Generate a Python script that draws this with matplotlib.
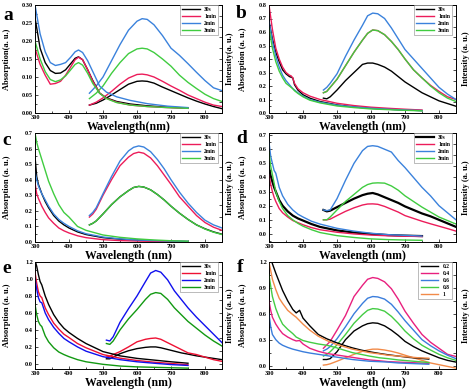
import numpy as np
import matplotlib
matplotlib.use("Agg")
import matplotlib.pyplot as plt
from matplotlib.ticker import MultipleLocator, FormatStrFormatter, MaxNLocator

plt.rcParams['font.family'] = ['Liberation Serif', 'DejaVu Serif']
plt.rcParams['font.weight'] = 'bold'

# ---------------- panel a ----------------
a_abs_wl = [300, 315, 330, 345, 360, 375, 390, 405, 418, 428, 440, 455, 470, 490, 510, 540, 580, 630, 690, 750]
a_abs_30s = [0.265, 0.18, 0.14, 0.118, 0.11, 0.111, 0.12, 0.137, 0.152, 0.156, 0.148, 0.12, 0.09, 0.055, 0.042, 0.032, 0.025, 0.02, 0.016, 0.014]
a_abs_1min = [0.18, 0.135, 0.105, 0.08, 0.082, 0.088, 0.105, 0.128, 0.148, 0.155, 0.148, 0.12, 0.088, 0.056, 0.041, 0.03, 0.022, 0.018, 0.015, 0.013]
a_abs_2min = [0.30, 0.22, 0.17, 0.14, 0.132, 0.135, 0.14, 0.155, 0.17, 0.175, 0.168, 0.145, 0.115, 0.075, 0.058, 0.045, 0.035, 0.026, 0.019, 0.015]
a_abs_3min = [0.20, 0.15, 0.115, 0.093, 0.087, 0.092, 0.103, 0.12, 0.135, 0.14, 0.133, 0.11, 0.082, 0.055, 0.04, 0.029, 0.022, 0.018, 0.015, 0.013]
a_em_wl = [460, 480, 500, 525, 550, 575, 600, 615, 630, 650, 675, 700, 725, 750, 775, 800, 825, 850]
a_em_30s = [0.022, 0.027, 0.036, 0.05, 0.065, 0.08, 0.088, 0.089, 0.088, 0.083, 0.072, 0.062, 0.052, 0.042, 0.033, 0.025, 0.018, 0.012]
a_em_1min = [0.022, 0.03, 0.042, 0.06, 0.08, 0.097, 0.107, 0.108, 0.106, 0.10, 0.088, 0.075, 0.063, 0.05, 0.04, 0.03, 0.022, 0.018]
a_em_2min = [0.055, 0.075, 0.10, 0.145, 0.19, 0.23, 0.255, 0.262, 0.26, 0.245, 0.215, 0.18, 0.16, 0.137, 0.113, 0.09, 0.07, 0.062]
a_em_3min = [0.04, 0.055, 0.075, 0.11, 0.14, 0.165, 0.178, 0.18, 0.178, 0.168, 0.15, 0.13, 0.105, 0.085, 0.068, 0.052, 0.04, 0.032]

# ---------------- panel b ----------------
b_abs_wl = [300, 310, 320, 330, 340, 350, 360, 365, 370, 375, 385, 400, 420, 450, 500, 550, 600, 650, 700, 750]
b_abs_30s = [0.68, 0.55, 0.45, 0.38, 0.32, 0.29, 0.27, 0.265, 0.26, 0.21, 0.17, 0.135, 0.11, 0.085, 0.06, 0.045, 0.035, 0.028, 0.022, 0.018]
b_abs_1min = [0.80, 0.62, 0.48, 0.40, 0.34, 0.30, 0.28, 0.275, 0.26, 0.22, 0.18, 0.15, 0.125, 0.10, 0.072, 0.055, 0.043, 0.035, 0.028, 0.022]
b_abs_2min = [0.68, 0.53, 0.42, 0.34, 0.28, 0.24, 0.21, 0.195, 0.18, 0.17, 0.15, 0.125, 0.10, 0.08, 0.058, 0.045, 0.035, 0.028, 0.022, 0.018]
b_abs_3min = [0.63, 0.48, 0.38, 0.31, 0.26, 0.22, 0.20, 0.19, 0.18, 0.165, 0.145, 0.12, 0.095, 0.075, 0.052, 0.04, 0.03, 0.025, 0.02, 0.016]
em_wl = [460, 470, 480, 500, 525, 550, 575, 590, 605, 620, 640, 660, 680, 700, 725, 750, 775, 800, 825, 850]
b_em_30s = [0.11, 0.105, 0.12, 0.17, 0.24, 0.30, 0.36, 0.37, 0.37, 0.36, 0.34, 0.31, 0.27, 0.23, 0.19, 0.15, 0.12, 0.09, 0.07, 0.05]
b_em_1min = [0.15, 0.16, 0.19, 0.25, 0.35, 0.45, 0.54, 0.59, 0.615, 0.61, 0.58, 0.53, 0.47, 0.40, 0.32, 0.26, 0.205, 0.16, 0.12, 0.10]
b_em_2min = [0.17, 0.19, 0.22, 0.29, 0.42, 0.54, 0.65, 0.72, 0.74, 0.735, 0.70, 0.63, 0.55, 0.47, 0.40, 0.33, 0.26, 0.19, 0.14, 0.10]
b_em_3min = [0.15, 0.16, 0.19, 0.25, 0.35, 0.45, 0.54, 0.59, 0.615, 0.61, 0.58, 0.53, 0.47, 0.40, 0.32, 0.26, 0.20, 0.15, 0.11, 0.085]

# ---------------- panel c ----------------
c_abs_wl = [300, 305, 310, 320, 330, 340, 355, 370, 385, 400, 425, 450, 500, 550, 600, 650, 700, 750]
c_abs_30s = [0.55, 0.42, 0.37, 0.31, 0.26, 0.22, 0.17, 0.135, 0.11, 0.09, 0.065, 0.048, 0.028, 0.018, 0.012, 0.008, 0.005, 0.003]
c_abs_1min = [0.38, 0.31, 0.28, 0.23, 0.19, 0.155, 0.12, 0.09, 0.072, 0.058, 0.04, 0.028, 0.015, 0.009, 0.006, 0.004, 0.003, 0.002]
c_abs_2min = [0.45, 0.40, 0.36, 0.31, 0.27, 0.23, 0.18, 0.145, 0.12, 0.10, 0.072, 0.053, 0.032, 0.02, 0.013, 0.009, 0.006, 0.004]
c_abs_3min = [0.70, 0.64, 0.60, 0.53, 0.46, 0.39, 0.31, 0.24, 0.19, 0.16, 0.10, 0.075, 0.045, 0.03, 0.02, 0.013, 0.008, 0.005]
c_em_30s = [0.11, 0.12, 0.135, 0.18, 0.24, 0.29, 0.33, 0.35, 0.357, 0.353, 0.335, 0.305, 0.27, 0.23, 0.185, 0.145, 0.11, 0.085, 0.065, 0.05]
c_em_1min = [0.16, 0.18, 0.21, 0.30, 0.40, 0.49, 0.545, 0.568, 0.577, 0.57, 0.54, 0.49, 0.43, 0.37, 0.29, 0.23, 0.17, 0.125, 0.095, 0.075]
c_em_2min = [0.17, 0.19, 0.22, 0.31, 0.42, 0.52, 0.585, 0.608, 0.617, 0.61, 0.58, 0.53, 0.47, 0.40, 0.32, 0.25, 0.19, 0.14, 0.11, 0.09]
c_em_3min = [0.11, 0.12, 0.135, 0.18, 0.24, 0.29, 0.33, 0.35, 0.357, 0.353, 0.335, 0.305, 0.27, 0.23, 0.185, 0.145, 0.11, 0.083, 0.063, 0.048]

# ---------------- panel d ----------------
d_abs_wl = [300, 305, 310, 315, 320, 330, 340, 355, 370, 385, 400, 425, 450, 500, 550, 600, 650, 700, 750]
d_abs_30s = [0.47, 0.41, 0.37, 0.33, 0.30, 0.24, 0.20, 0.16, 0.13, 0.11, 0.095, 0.07, 0.05, 0.025, 0.01, 0.0, -0.008, -0.012, -0.015]
d_abs_1min = [0.42, 0.35, 0.30, 0.26, 0.23, 0.18, 0.15, 0.12, 0.095, 0.08, 0.065, 0.045, 0.03, 0.012, 0.0, -0.008, -0.013, -0.016, -0.018]
d_abs_2min = [0.65, 0.55, 0.50, 0.45, 0.43, 0.33, 0.27, 0.21, 0.17, 0.14, 0.12, 0.09, 0.07, 0.04, 0.02, 0.005, -0.005, -0.01, -0.015]
d_abs_3min = [0.58, 0.48, 0.42, 0.36, 0.30, 0.23, 0.18, 0.13, 0.10, 0.075, 0.055, 0.03, 0.01, -0.012, -0.025, -0.035, -0.04, -0.043, -0.045]
d_em_30s = [0.17, 0.16, 0.165, 0.19, 0.22, 0.25, 0.275, 0.285, 0.29, 0.28, 0.26, 0.24, 0.22, 0.195, 0.17, 0.145, 0.125, 0.10, 0.075, 0.05]
d_em_1min = [0.10, 0.10, 0.105, 0.13, 0.16, 0.185, 0.205, 0.212, 0.213, 0.21, 0.195, 0.175, 0.155, 0.13, 0.11, 0.09, 0.072, 0.055, 0.038, 0.02]
d_em_2min = [0.17, 0.165, 0.17, 0.25, 0.38, 0.50, 0.59, 0.62, 0.625, 0.62, 0.60, 0.58, 0.52, 0.47, 0.40, 0.33, 0.27, 0.20, 0.15, 0.10]
d_em_3min = [0.10, 0.10, 0.12, 0.17, 0.23, 0.28, 0.33, 0.35, 0.36, 0.362, 0.36, 0.34, 0.31, 0.27, 0.23, 0.19, 0.155, 0.12, 0.095, 0.07]

# ---------------- panel e ----------------
e_abs_wl = [300, 305, 310, 315, 320, 330, 340, 355, 370, 385, 400, 425, 450, 500, 550, 600, 650, 700, 750]
e_abs_30s = [1.22, 1.15, 1.05, 0.97, 0.93, 0.80, 0.70, 0.58, 0.49, 0.42, 0.37, 0.30, 0.24, 0.145, 0.095, 0.065, 0.045, 0.025, 0.008]
e_abs_1min = [1.08, 0.95, 0.85, 0.80, 0.78, 0.66, 0.58, 0.48, 0.41, 0.35, 0.31, 0.24, 0.19, 0.11, 0.068, 0.04, 0.02, 0.005, -0.01]
e_abs_2min = [1.0, 0.88, 0.78, 0.73, 0.72, 0.60, 0.52, 0.43, 0.36, 0.30, 0.26, 0.20, 0.15, 0.085, 0.05, 0.025, 0.008, -0.008, -0.018]
e_abs_3min = [0.70, 0.58, 0.50, 0.46, 0.44, 0.33, 0.26, 0.19, 0.14, 0.11, 0.085, 0.05, 0.025, -0.005, -0.025, -0.035, -0.04, -0.045, -0.05]
e_em_wl = [510, 520, 530, 550, 575, 600, 625, 640, 655, 670, 690, 710, 730, 750, 775, 800, 825, 850]
e_em_30s = [0.06, 0.06, 0.08, 0.12, 0.155, 0.18, 0.195, 0.2, 0.2, 0.19, 0.17, 0.15, 0.13, 0.115, 0.095, 0.08, 0.065, 0.05]
e_em_1min = [0.08, 0.09, 0.11, 0.145, 0.20, 0.26, 0.29, 0.30, 0.305, 0.29, 0.25, 0.21, 0.17, 0.13, 0.11, 0.08, 0.05, 0.03]
e_em_2min = [0.28, 0.27, 0.32, 0.49, 0.65, 0.80, 0.97, 1.07, 1.10, 1.08, 0.99, 0.86, 0.76, 0.66, 0.55, 0.45, 0.35, 0.25]
e_em_3min = [0.24, 0.23, 0.27, 0.40, 0.53, 0.64, 0.76, 0.82, 0.84, 0.83, 0.76, 0.66, 0.58, 0.50, 0.42, 0.34, 0.27, 0.21]

# ---------------- panel f ----------------
f_abs_wl = [300, 305, 310, 320, 330, 340, 355, 370, 380, 390, 400, 420, 445, 470, 495, 520, 545, 570, 595, 625, 650, 680, 710, 740, 770]
f_abs_02 = [1.35, 1.25, 1.18, 1.07, 0.97, 0.87, 0.75, 0.65, 0.61, 0.64, 0.55, 0.46, 0.36, 0.31, 0.27, 0.235, 0.205, 0.18, 0.16, 0.14, 0.125, 0.11, 0.095, 0.085, 0.075]
f_abs_04 = [0.75, 0.64, 0.56, 0.48, 0.42, 0.37, 0.33, 0.30, 0.285, 0.29, 0.25, 0.20, 0.165, 0.14, 0.125, 0.11, 0.095, 0.08, 0.065, 0.055, 0.045, 0.04, 0.035, 0.03, 0.025]
f_abs_06 = [0.60, 0.45, 0.36, 0.30, 0.26, 0.235, 0.21, 0.19, 0.18, 0.17, 0.16, 0.145, 0.13, 0.115, 0.10, 0.085, 0.07, 0.06, 0.05, 0.045, 0.04, 0.03, 0.025, 0.02, 0.015]
f_abs_08 = [1.05, 0.92, 0.80, 0.66, 0.56, 0.48, 0.42, 0.37, 0.33, 0.31, 0.29, 0.27, 0.25, 0.235, 0.21, 0.18, 0.15, 0.13, 0.11, 0.09, 0.08, 0.065, 0.055, 0.045, 0.035]
f_abs_1 = [1.2, 1.1, 1.0, 0.88, 0.78, 0.72, 0.64, 0.59, 0.56, 0.52, 0.48, 0.41, 0.34, 0.29, 0.25, 0.22, 0.19, 0.17, 0.15, 0.135, 0.12, 0.11, 0.10, 0.09, 0.085]
f_em_02 = [0.07, 0.07, 0.08, 0.16, 0.30, 0.40, 0.46, 0.485, 0.495, 0.49, 0.46, 0.41, 0.35, 0.28, 0.22, 0.17, 0.13, 0.09, 0.06, 0.04]
f_em_04 = [0.20, 0.24, 0.28, 0.41, 0.58, 0.80, 0.93, 1.0, 1.02, 1.01, 0.97, 0.89, 0.77, 0.63, 0.49, 0.36, 0.27, 0.20, 0.13, 0.105]
f_em_06 = [0.17, 0.19, 0.22, 0.31, 0.45, 0.60, 0.72, 0.78, 0.80, 0.795, 0.77, 0.71, 0.62, 0.52, 0.41, 0.30, 0.23, 0.17, 0.12, 0.08]
f_em_08 = [0.11, 0.13, 0.16, 0.24, 0.36, 0.49, 0.59, 0.64, 0.66, 0.655, 0.63, 0.57, 0.49, 0.40, 0.31, 0.235, 0.18, 0.13, 0.09, 0.06]
f_em_1 = [0.005, 0.01, 0.02, 0.05, 0.09, 0.13, 0.165, 0.18, 0.19, 0.19, 0.18, 0.165, 0.145, 0.12, 0.09, 0.06, 0.03, 0.01, -0.01, -0.03]

time_labels = ['30s', '1min', '2min', '3min']
conc_labels = ['0.2', '0.4', '0.6', '0.8', '1']
cols_abcd = ['#000000', '#ec1c5a', '#3b82dc', '#40cc40']
cols_e = ['#000000', '#ee1133', '#1010ee', '#129912']
cols_f = ['#000000', '#e8207e', '#3a7ddc', '#44cc44', '#f28a48']

W, H = 474.0, 390.0
fig = plt.figure(figsize=(4.74, 3.9), dpi=100)


def make_ax(x0, y0, x1, y1):
    return fig.add_axes([x0 / W, 1 - y1 / H, (x1 - x0) / W, (y1 - y0) / H])


def draw(ax, abs_wl, abs_list, em_wl_, em_list, labels, cols, ylim, ystep, fmt,
         xlab, ylab, rlab, left_col, lws=None):
    tw = ax.twinx()
    if lws is None:
        lws = [1.0] * len(labels)
    for y, c, lab, lw in zip(abs_list, cols, labels, lws):
        ax.plot(abs_wl, y, color=c, lw=lw, label=lab)
    for y, c, lw in zip(em_list, cols, lws):
        tw.plot(em_wl_, y, color=c, lw=lw)
    ax.set_xlim(300, 850)
    ax.set_ylim(*ylim)
    tw.set_ylim(*ylim)
    ax.xaxis.set_major_locator(MultipleLocator(100))
    ax.xaxis.set_minor_locator(MultipleLocator(50))
    ax.yaxis.set_major_locator(MultipleLocator(ystep))
    ax.yaxis.set_minor_locator(MultipleLocator(ystep / 2))
    ax.yaxis.set_major_formatter(FormatStrFormatter(fmt))
    ax.tick_params(which='both', direction='in', labelsize=4.5, pad=1.5, width=0.5)
    ax.tick_params(which='major', length=2.5)
    ax.tick_params(which='minor', length=1.5)
    tw.yaxis.set_major_locator(MaxNLocator(11))
    tw.tick_params(direction='in', length=2.5, width=0.5, labelright=False)
    for s in ax.spines.values():
        s.set_linewidth(0.6)
    for s in tw.spines.values():
        s.set_linewidth(0.6)
    ax.set_xlabel(xlab, fontsize=8.5, fontweight='bold')
    ax.xaxis.set_label_coords(0.5, -0.075)
    ax.set_ylabel(ylab, fontsize=6, fontweight='bold')
    if left_col:
        ax.yaxis.set_label_coords(-0.128, 0.5)
        tw.yaxis.set_label_coords(1.022, 0.5)
    else:
        ax.yaxis.set_label_coords(-0.118, 0.5)
        tw.yaxis.set_label_coords(1.034, 0.5)
    tw.set_ylabel(rlab, fontsize=6, fontweight='bold')
    leg = ax.legend(loc='upper right', bbox_to_anchor=(0.995, 1.03), fontsize=4,
                    handlelength=3.2, handletextpad=0.8, labelspacing=0.35,
                    borderpad=0.4, fancybox=False, framealpha=1)
    leg.get_frame().set_linewidth(0.4)
    leg.get_frame().set_edgecolor('#888888')
    leg.set_zorder(5)
    tw.set_zorder(ax.get_zorder() - 1)
    ax.patch.set_visible(False)
    return tw


ax_a = make_ax(35, 5, 222, 113)
draw(ax_a, a_abs_wl, [a_abs_30s, a_abs_1min, a_abs_2min, a_abs_3min],
     a_em_wl, [a_em_30s, a_em_1min, a_em_2min, a_em_3min],
     time_labels, cols_abcd, (0, 0.30), 0.05, '%.2f',
     'Wavelength(nm)', 'Absorption(a. u.)', 'Intensity(a. u.)', True)

ax_b = make_ax(269, 5, 456, 113)
draw(ax_b, b_abs_wl, [b_abs_30s, b_abs_1min, b_abs_2min, b_abs_3min],
     em_wl, [b_em_30s, b_em_1min, b_em_2min, b_em_3min],
     time_labels, cols_abcd, (0, 0.8), 0.1, '%.1f',
     'Wavelength (nm)', 'Absorption (a. u.)', 'Intensity (a. u.)', False)

ax_c = make_ax(35, 133, 222, 242)
draw(ax_c, c_abs_wl, [c_abs_30s, c_abs_1min, c_abs_2min, c_abs_3min],
     em_wl, [c_em_30s, c_em_1min, c_em_2min, c_em_3min],
     time_labels, cols_abcd, (0, 0.7), 0.1, '%.1f',
     'Wavelength (nm)', 'Absorption (a. u.)', 'Intensity (a. u.)', True)

ax_d = make_ax(269, 133, 456, 242)
draw(ax_d, d_abs_wl, [d_abs_30s, d_abs_1min, d_abs_2min, d_abs_3min],
     em_wl, [d_em_30s, d_em_1min, d_em_2min, d_em_3min],
     time_labels, cols_abcd, (-0.057, 0.715), 0.1, '%.1f',
     'Wavelength (nm)', 'Absorption (a. u.)', 'Intensity (a. u.)', False,
     lws=[1.6, 1.0, 1.0, 1.0])

ax_e = make_ax(35, 262, 222, 369)
draw(ax_e, e_abs_wl, [e_abs_30s, e_abs_1min, e_abs_2min, e_abs_3min],
     e_em_wl, [e_em_30s, e_em_1min, e_em_2min, e_em_3min],
     time_labels, cols_e, (-0.06, 1.2), 0.2, '%.1f',
     'Wavelength (nm)', 'Absorption (a. u.)', 'Intensity (a. u.)', True)

ax_f = make_ax(269, 262, 456, 369)
draw(ax_f, f_abs_wl, [f_abs_02, f_abs_04, f_abs_06, f_abs_08, f_abs_1],
     em_wl, [f_em_02, f_em_04, f_em_06, f_em_08, f_em_1],
     conc_labels, cols_f, (-0.04, 1.2), 0.3, '%.1f',
     'Wavelength (nm)', 'Absorption (a. u.)', 'Intensity (a. u.)', False)

for letter, px, py in [('a', 3, 20), ('b', 236, 18), ('c', 2, 145),
                       ('d', 236, 143), ('e', 2, 273), ('f', 237, 272)]:
    fig.text(px / W, 1 - py / H, letter, fontsize=14, fontweight='bold',
             ha='left', va='baseline')

fig.savefig('out.png', dpi=100)
